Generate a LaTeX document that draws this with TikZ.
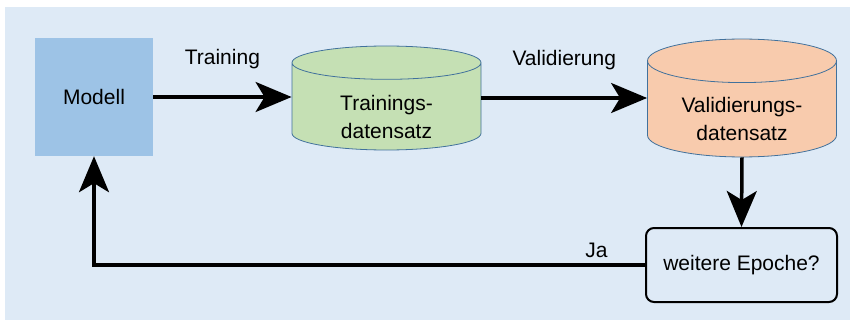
\documentclass[tikz,border=0pt]{standalone}
\usepackage{fontspec}
\setmainfont{Liberation Sans}
\usepackage{tikz}
\usetikzlibrary{arrows.meta,positioning,shapes.geometric}
\definecolor{panelbg}{RGB}{222,234,246}
\definecolor{modelblue}{RGB}{157,195,230}
\definecolor{traingreen}{RGB}{197,224,180}
\definecolor{valorange}{RGB}{248,203,173}
\definecolor{cylline}{RGB}{65,113,156}
\newcommand{\dbtop}{\rule{0pt}{36pt}}

\begin{document}
\begin{tikzpicture}[
    x=1pt, y=-1pt,
    font=\fontsize{21}{28}\selectfont,
    model/.style={fill=modelblue, minimum width=118pt, minimum height=118pt,
                  inner sep=0pt},
    db/.style={cylinder, shape border rotate=90, aspect=0.36, draw=cylline,
               line width=0.8pt, minimum width=189pt, minimum height=104pt,
               align=center, inner xsep=0pt, inner ysep=-6pt,
               anchor=shape center},
    decision/.style={draw=black, line width=2pt, rounded corners=8pt,
                     minimum width=191pt, minimum height=74pt, inner sep=0pt},
    arr/.style={-{Stealth[length=36pt, width=30pt, inset=9pt]}, line width=3.5pt}
]
\useasboundingbox (0,0) rectangle (855,329);
\fill[panelbg] (5,7) rectangle (850,320);

\node[model] (modell) at (94, 97) {Modell};
\node[db, fill=traingreen] (trainset) at (386.5, 98) {\dbtop Trainings-\\datensatz};
\node[db, fill=valorange] (valset) at (742, 98) {\dbtop Validierungs-\\datensatz};
\node[decision] (epoch) at (741.5, 265) {weitere Epoche?};

\draw[arr] (modell.east) -- node[above=23pt] {Training} (modell.east -| trainset.west);
\draw[arr] (trainset.shape center -| trainset.east)
    -- node[above=23pt] {Validierung} (trainset.shape center -| valset.west);
\draw[arr] (valset.south) -- (epoch.north);
\draw[arr] (epoch.west) -| node[pos=0.044, above=2pt] {Ja} (modell.south);
\end{tikzpicture}
\end{document}
